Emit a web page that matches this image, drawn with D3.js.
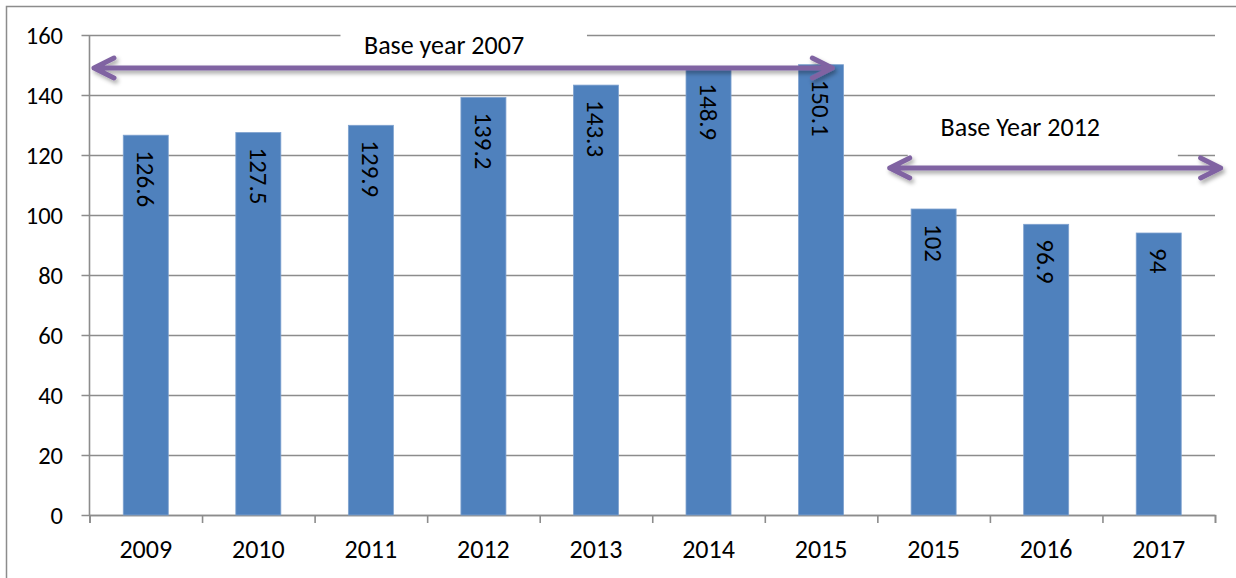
<!DOCTYPE html>
<html>
<head>
<meta charset="utf-8">
<script src="https://cdn.jsdelivr.net/npm/d3@7"></script>
<style>
  body { margin: 0; background: #fff; }
  svg { display: block; }
  text { font-family: Carlito, Calibri, "Liberation Sans", Arial, sans-serif; fill: #000; }
</style>
</head>
<body>
<svg id="chart" width="1236" height="578"></svg>
<script>
// data
var years = ["2009", "2010", "2011", "2012", "2013", "2014", "2015", "2015", "2016", "2017"];
var values = [126.6, 127.5, 129.9, 139.2, 143.3, 148.9, 150.1, 102, 96.9, 94];
var yTicks = [0, 20, 40, 60, 80, 100, 120, 140, 160];

// annotations: x in category units (0..10), y in value units
var arrowNames = ["Base year 2007", "Base Year 2012"];
var arrowX0 = [0.04, 7.11];
var arrowX1 = [6.6, 10.05];
var arrowY = [149, 115.7];
var labelX = [3.15, 8.27];
var labelY = [156.7, 129.3];
var boxX0 = [2.23, 7.27];
var boxX1 = [4.42, 9.67];
var boxY0 = [163, 136.7];
var boxY1 = [149.5, 118.3];

var svg = d3.select("#chart");
var plotLeft = 89.5, plotRight = 1215, plotTop = 35, plotBottom = 515;

// outer border (only left/top visible in the frame)
svg.append("rect")
    .attr("x", 6.5).attr("y", 6.5)
    .attr("width", 1260).attr("height", 600)
    .attr("fill", "none")
    .attr("stroke", "#8c8c8c")
    .attr("stroke-width", 1.5);

var x = d3.scaleBand()
    .domain(d3.range(years.length))
    .range([plotLeft, plotRight])
    .paddingInner(0.6)
    .paddingOuter(0.3);

var xi = d3.scaleLinear().domain([0, years.length]).range([plotLeft, plotRight]);

var y = d3.scaleLinear().domain([0, 160]).range([plotBottom, plotTop]);

// gridlines
var gy = svg.append("g")
    .attr("transform", "translate(" + plotRight + ",0)")
    .call(d3.axisLeft(y).tickValues(yTicks).tickSize(plotRight - plotLeft + 8).tickFormat(""));
gy.select(".domain").remove();
gy.selectAll(".tick line").attr("stroke", "#8c8c8c").attr("stroke-width", 1.6);

// y labels
svg.selectAll(".ylab")
    .data(yTicks)
  .enter().append("text")
    .attr("class", "ylab")
    .attr("x", 63)
    .attr("y", function(d) { return y(d); })
    .attr("dy", "0.35em")
    .attr("text-anchor", "end")
    .attr("font-size", 24.5)
    .text(function(d) { return d; });

// vertical axis line
svg.append("line")
    .attr("x1", plotLeft).attr("x2", plotLeft)
    .attr("y1", plotTop).attr("y2", plotBottom)
    .attr("stroke", "#8c8c8c").attr("stroke-width", 1.6);

// x axis with ticks at category boundaries
var gx = svg.append("g")
    .attr("transform", "translate(0," + plotBottom + ")")
    .call(d3.axisBottom(xi).tickValues(d3.range(years.length + 1)).tickSize(8).tickFormat(""));
gx.select(".domain").attr("stroke", "#8c8c8c").attr("stroke-width", 1.6);
gx.selectAll(".tick line").attr("stroke", "#8c8c8c").attr("stroke-width", 1.6);

svg.selectAll(".xlab")
    .data(years)
  .enter().append("text")
    .attr("class", "xlab")
    .attr("x", function(d, i) { return x(i) + x.bandwidth() / 2; })
    .attr("y", 549)
    .attr("dy", "0.35em")
    .attr("text-anchor", "middle")
    .attr("font-size", 26)
    .text(function(d) { return d; });

// bars
svg.selectAll(".bar")
    .data(values)
  .enter().append("rect")
    .attr("class", "bar")
    .attr("x", function(d, i) { return x(i); })
    .attr("y", function(d) { return y(d); })
    .attr("width", x.bandwidth())
    .attr("height", function(d) { return plotBottom - y(d); })
    .attr("fill", "#4F81BD")
    .attr("stroke", "#7fa2cf")
    .attr("stroke-width", 0.8);

// rotated value labels
svg.selectAll(".vlab")
    .data(values)
  .enter().append("text")
    .attr("class", "vlab")
    .attr("transform", function(d, i) {
        return "translate(" + (x(i) + x.bandwidth() / 2) + "," + (y(d) + 15) + ") rotate(90)";
    })
    .attr("dy", "0.35em")
    .attr("font-size", 25)
    .text(function(d) { return d; });

// annotation boxes
svg.selectAll(".abox")
    .data(arrowNames)
  .enter().append("rect")
    .attr("class", "abox")
    .attr("x", function(d, i) { return xi(boxX0[i]); })
    .attr("y", function(d, i) { return y(boxY0[i]); })
    .attr("width", function(d, i) { return xi(boxX1[i]) - xi(boxX0[i]); })
    .attr("height", function(d, i) { return y(boxY1[i]) - y(boxY0[i]); })
    .attr("fill", "#fff");

svg.selectAll(".alab")
    .data(arrowNames)
  .enter().append("text")
    .attr("class", "alab")
    .attr("x", function(d, i) { return xi(labelX[i]); })
    .attr("y", function(d, i) { return y(labelY[i]); })
    .attr("dy", "0.35em")
    .attr("text-anchor", "middle")
    .attr("font-size", 26)
    .text(function(d) { return d; });

// double-headed arrows with soft shadow
var defs = svg.append("defs");
var f = defs.append("filter").attr("id", "shadow")
    .attr("x", "-5%").attr("y", "-50%").attr("width", "110%").attr("height", "200%");
f.append("feDropShadow")
    .attr("dx", 2).attr("dy", 3).attr("stdDeviation", 2)
    .attr("flood-color", "#000").attr("flood-opacity", 0.35);

var head = 20, spread = 10;
svg.selectAll(".arrow")
    .data(arrowNames)
  .enter().append("path")
    .attr("class", "arrow")
    .attr("d", function(d, i) {
        var a = xi(arrowX0[i]), b = xi(arrowX1[i]), yy = y(arrowY[i]);
        return "M" + a + "," + yy + "L" + b + "," + yy +
            "M" + (a + head) + "," + (yy - spread) + "L" + a + "," + yy + "L" + (a + head) + "," + (yy + spread) +
            "M" + (b - head) + "," + (yy - spread) + "L" + b + "," + yy + "L" + (b - head) + "," + (yy + spread);
    })
    .attr("fill", "none")
    .attr("stroke", "#8064A2")
    .attr("stroke-width", 5)
    .attr("stroke-linecap", "round")
    .attr("stroke-linejoin", "round")
    .attr("filter", "url(#shadow)");
</script>
</body>
</html>
